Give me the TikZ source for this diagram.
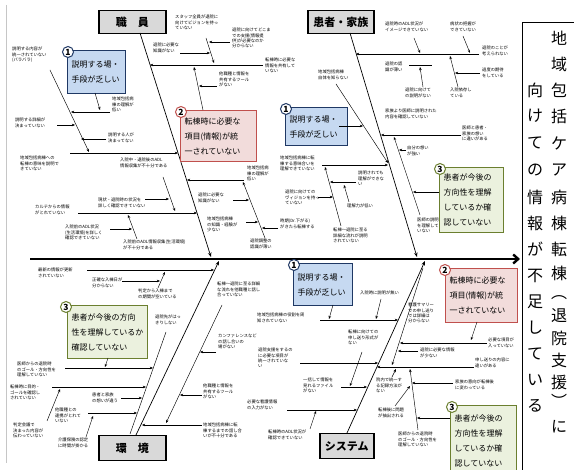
\documentclass[tikz,border=0pt]{standalone}
\usepackage{fontspec}
\setmainfont{Noto Sans CJK JP}
\usetikzlibrary{arrows.meta}
\definecolor{bfill}{HTML}{C6D9F1}
\definecolor{bdraw}{HTML}{1F3864}
\definecolor{rfill}{HTML}{F2DCDB}
\definecolor{rdraw}{HTML}{C0504D}
\definecolor{gfill}{HTML}{EBF1DE}
\definecolor{gdraw}{HTML}{6B7F2F}
\definecolor{catfill}{HTML}{D9D9D9}
\begin{document}
\begin{tikzpicture}[x=1pt,y=-1pt,
 t/.style={font=\fontsize{4.3}{5.3}\selectfont, align=left, inner sep=0pt, anchor=north west},
 ar/.style={-{Stealth[length=3.2pt,width=2.6pt]}, line width=0.45pt},
 pl/.style={line width=0.45pt},
 bone/.style={line width=0.7pt,-{Stealth[length=4.5pt,width=3.5pt]}},
 cat/.style={draw, line width=1.5pt, fill=catfill, anchor=north west, inner sep=0pt, font=\fontsize{11}{13}\selectfont\bfseries},
 cbox/.style={anchor=north west, inner xsep=4pt, inner ysep=0pt, line width=1.3pt, align=left, font=\fontsize{8}{15}\selectfont},
 b1/.style={cbox, draw=bdraw, fill=bfill},
 b2/.style={cbox, draw=rdraw, fill=rfill},
 b3/.style={cbox, draw=gdraw, fill=gfill},
 num/.style={circle, fill=white, line width=1pt, inner sep=0pt, minimum size=11pt, font=\fontsize{8.5}{9}\selectfont\bfseries},
 vt/.style={font=\fontsize{16}{16}\selectfont, inner sep=0pt}
]
\useasboundingbox (0,0) rectangle (574,470);
\fill[white] (0,0) rectangle (574,470);
% frame
\draw[gray!45, line width=0.6pt] (6,5) -- (6,463);
\draw[line width=0.8pt] (580,22) -- (522,22) -- (522,475);
% spine
\draw[line width=2.4pt, -{Straight Barb[length=5pt,width=9pt]}] (30,259) -- (520,259);
% category boxes
\node[cat, minimum width=67pt, minimum height=23pt] (staff) at (98,10) {職　員};
\node[cat, minimum width=66pt, minimum height=23pt] (patient) at (307,10) {患者・家族};
\node[cat, minimum width=67pt, minimum height=25pt] (env) at (98,435) {環　境};
\node[cat, minimum width=54pt, minimum height=25pt] (sys) at (319,433) {システム};
% main bones
\coordinate (b1a) at (140,33); \coordinate (b1b) at (211,257);
\coordinate (b2a) at (350,33); \coordinate (b2b) at (417,257);
\coordinate (b3a) at (136,435); \coordinate (b3b) at (219,261);
\coordinate (b4a) at (347,433); \coordinate (b4b) at (425,261);
\draw[bone] (b1a) -- (b1b);
\draw[bone] (b2a) -- (b2b);
\draw[bone] (b3a) -- (b3b);
\draw[bone] (b4a) -- (b4b);

% ---------- upper left (staff)
\node[b1, text width=50pt, minimum height=43pt] (c1) at (67,50) {説明する場・\\手段が乏しい};
\node[num, draw=bdraw] (n1) at (68,52) {1};
\node[t] (t1) at (12,47) {説明する内容が\\統一されていない\\(バラバラ)};
\node[t] (t2) at (15,118) {説明する詳細が\\決まっていない};
\node[t] (t3) at (112,97) {地域包括病\\棟の理解が\\低い};
\node[t] (t4) at (108,133) {説明する人が\\決まってない};
\node[t] (t5) at (20,156) {地域包括病棟への\\転棟の意味を説明で\\きていない};
\node[t] (t6) at (120,158) {入院中・退院後のADL\\情報収集が不十分である};
\node[t] (t7) at (98,198) {現状・退院時の状況を\\詳しく確認できていない};
\node[t] (t8) at (35,205) {カルテからの情報\\がとれていない};
\node[t] (t9) at (65,225) {入院前のADL状況\\(生活環境)を詳しく\\確認できていない};
\node[t] (t10) at (123,240) {入院前のADL情報収集(生活環境)\\が不十分である};
\draw[ar] (70,153) -- (178,153);
\draw[ar] (50,70) -- (89,152);
\draw[ar] (95,93) -- (100,110);
\draw[ar] (110,112) -- (71,112);
\draw[ar] (57,125) -- (75,125);
\draw[ar] (106,139) -- (81,139);
\draw[ar] (78,213) -- (197,213);
\draw[ar] (163,177) -- (175,211);
\draw[ar] (145,199) -- (169,199);
\draw[ar] (137,239) -- (128,215);
\draw[ar] (110,229) -- (132,229);

% ---------- upper middle
\node[t] (t11) at (175,15) {スタッフ全員が退院に\\向けてビジョンを持っ\\ていない};
\node[t] (t12) at (232,28) {退院に向けてどこま\\での支援(情報提\\供)が必要なのか\\分からない};
\node[t] (t13) at (153,43) {退院に必要な\\知識がない};
\node[t] (t14) at (265,58) {転棟時に必要な\\情報を共有して\\いない};
\node[t] (t15) at (219,72) {他職種と情報を\\共有するツール\\がない};
\node[b2, text width=68pt, minimum height=51pt] (c2) at (180,110) {転棟時に必要な\\項目(情報)が統\\一されていない};
\node[num, draw=rdraw] (n2) at (181,112) {2};
\node[t] (t16) at (247,166) {地域包括病\\棟の理解が\\低い};
\node[t] (t17) at (198,193) {退院に必要な\\知識がない};
\node[t] (t18) at (207,217) {地域包括病棟\\の知識・経験が\\少ない};
\node[t] (t19) at (250,239) {退院調整の\\認識が薄い};
\node[t] (t20) at (318,70) {地域包括病棟\\自体を知らない};
\node[b1, text width=54pt, minimum height=38pt] (c4) at (285,107) {説明する場・\\手段が乏しい};
\node[num, draw=bdraw] (n4) at (286,109) {1};
\node[t] (t21) at (280,156) {地域包括病棟に転\\棟する意味合いを\\理解できていない};
\node[t] (t22) at (358,171) {説明されても\\理解ができな\\い};
\node[t] (t23) at (285,190) {退院に向けての\\ヴィジョンを持っ\\ていない};
\node[t] (t24) at (347,204) {理解力が低い};
\node[t] (t25) at (280,219) {時期(Dr.下がる)\\がきたら転棟する};
\node[t] (t26) at (333,228) {転棟〜退院に至る\\詳細な流れが説明\\されていない};
\draw[ar] (263,65) -- (150,65);
\draw[ar] (206,38) -- (214,63);
\draw[ar] (180,53) -- (210,53);
\draw[ar] (230,42) -- (209,42);
\draw[ar] (203,110) -- (194,67);
\draw[ar] (217,86) -- (199,86);
\draw[ar] (244,180) -- (187,180);
\draw[ar] (265,238) -- (243,182);
\draw[ar] (233,200) -- (249,200);
\draw[ar] (246,222) -- (258,222);
\draw[ar] (278,228) -- (262,228);
\draw[ar] (336,84) -- (388,163);
\draw[ar] (339,126) -- (363,126);
\draw[ar] (322,165) -- (388,165);
\draw[ar] (341,226) -- (325,167);
\draw[ar] (356,182) -- (330,182);
\draw[ar] (318,197) -- (333,197);
\draw[ar] (349,202) -- (344,185);

% ---------- upper right
\node[t] (t27) at (385,22) {退院時のADL状況が\\イメージできていない};
\node[t] (t28) at (450,22) {病状の把握が\\できていない};
\node[t] (t29) at (482,46) {退院のことが\\考えられない};
\node[t] (t30) at (385,62) {退院の認\\識が薄い};
\node[t] (t31) at (482,68) {過度の期待\\をしている};
\node[t] (t32) at (405,88) {退院に向けて\\の説明がない};
\node[t] (t33) at (450,88) {入院依存し\\ている};
\node[t] (t34) at (385,109) {家族より医師に説明された\\内容を確認していない};
\node[t] (t35) at (462,126) {医師と患者・\\家族の想い\\に違いがある};
\node[t] (t36) at (407,146) {自分の想い\\が強い};
\node[b3, text width=56pt, minimum height=65pt] (c3) at (439,167) {患者が今後の\\方向性を理解\\しているか確\\認していない};
\node[num, draw=gdraw] (n3) at (440,169) {3};
\node[t] (t37) at (417,218) {医師の説明\\を理解して\\いない};
\draw[ar] (479,54) -- (356,54);
\draw[ar] (414,38) -- (420,53);
\draw[ar] (463,36) -- (470,53);
\draw[ar] (458,87) -- (450,56);
\draw[ar] (480,73) -- (455,73);
\draw[pl] (409,65) -- (432,65);
\draw[ar] (423,87) -- (420,67);
\draw[ar] (461,135) -- (381,135);
\draw[ar] (420,215) -- (394,137);
\draw[ar] (406,150) -- (399,150);
\draw[ar] (439,192) -- (413,192);

% ---------- lower left (environment)
\node[t] (t38) at (38,268) {最新の情報が更新\\されていない};
\node[t] (t39) at (92,278) {正確な入棟日が\\分からない};
\node[t] (t40) at (138,289) {判定から入棟まで\\の期間が空いている};
\node[b3, text width=72pt, minimum height=53pt] (c5) at (67,305) {患者が今後の方向\\性を理解しているか\\確認していない};
\node[num, draw=gdraw] (n5) at (66,307) {3};
\node[t] (t41) at (155,315) {退院先がはっ\\きりしない};
\node[t] (t42) at (217,282) {転棟〜退院に至る詳細\\な流れを他職種と話し\\合っていない};
\node[t] (t43) at (218,334) {カンファレンスなど\\の話し合いの\\場がない};
\node[t] (t44) at (17,362) {医師からの退院時\\のゴール・方向性を\\理解していない};
\node[t] (t45) at (10,385) {転棟時に目的・\\ゴールを確認し\\されていない};
\node[t] (t46) at (92,393) {患者と家族\\の想いが違う};
\node[t] (t47) at (55,408) {他職種との\\連携がとれて\\いない};
\node[t] (t48) at (13,423) {判定会議で\\決まった内容が\\伝わっていない};
\node[t] (t49) at (58,438) {介護保険の認定\\に時間が掛かる};
\node[t] (t50) at (203,384) {他職種と情報を\\共有するツール\\がない};
\node[t] (t51) at (203,423) {地域包括病棟に転\\棟するまでの話し合\\いが不十分である};
\draw[ar] (87,270) -- (214,270);
\draw[ar] (158,288) -- (165,272);
\draw[ar] (122,281) -- (160,281);
\draw[pl] (166,332) -- (130,434);
\draw[ar] (108,358) -- (105,367);
\draw[ar] (65,368) -- (153,368);
\draw[ar] (52,387) -- (146,387);
\draw[ar] (47,421) -- (60,389);
\draw[ar] (121,398) -- (142,398);
\draw[ar] (88,413) -- (137,413);
\draw[ar] (86,437) -- (93,416);
\draw[ar] (222,305) -- (166,423);
\draw[ar] (216,352) -- (200,352);
\draw[ar] (202,395) -- (180,395);
\draw[ar] (202,425) -- (142,425);

% ---------- lower middle (system)
\node[b1, text width=51pt, minimum height=42pt] (c6) at (293,263) {説明する場・\\手段が乏しい};
\node[num, draw=bdraw] (n6) at (294,265) {1};
\node[t] (t52) at (360,291) {入院時に説明が無い};
\node[t] (t53) at (257,313) {地域包括病棟の役割を周\\知されていない};
\node[t] (t54) at (348,330) {転棟に向けての\\申し送り形式が\\ない};
\node[t] (t55) at (258,348) {退院支援をするの\\に必要な項目が\\統一されていな\\い};
\node[t] (t56) at (303,378) {一括して情報を\\見れるファイル\\がない};
\node[t] (t57) at (247,400) {必要な看護情報\\の入力がない};
\node[t] (t58) at (268,430) {転棟時のADL状況が\\確認できていない};
\draw[ar] (381,299) -- (376,319);
\draw[ar] (320,320) -- (398,320);
\draw[ar] (333,305) -- (329,319);
\draw[ar] (300,363) -- (378,363);
\draw[ar] (341,387) -- (367,387);
\draw[ar] (362,352) -- (350,386);
\draw[ar] (287,410) -- (357,410);
\draw[ar] (310,429) -- (316,411);

% ---------- lower right
\node[b2, text width=64pt, minimum height=54pt] (c7) at (445,268) {転棟時に必要な\\項目(情報)が統\\一されていない};
\node[num, draw=rdraw] (n7) at (445,270) {2};
\node[t] (t59) at (408,303) {看護サマリー\\での申し送り\\では詳細は\\分からない};
\node[t] (t60) at (488,338) {必要な項目が\\入っていない};
\node[t] (t61) at (420,348) {退院に必要な情報\\が少ない};
\node[t] (t62) at (475,358) {申し送りの内容に\\違いがある};
\node[t] (t63) at (376,378) {院内で統一す\\る記録方法が\\ない};
\node[t] (t64) at (455,380) {家族の意向が転棟後\\に変わっている};
\node[t] (t65) at (378,408) {転棟後に問題\\が抽出される};
\node[t] (t66) at (398,432) {医師からの退院時\\のゴール・方向性を\\理解していない};
\node[b3, text width=58pt, minimum height=70pt] (c8) at (450,405) {患者が今後の\\方向性を理解\\しているか確\\認していない};
\node[num, draw=gdraw] (n8) at (452,407) {3};
\draw[ar] (423,268) -- (392,365);
\draw[ar] (487,343) -- (400,343);
\draw[ar] (477,322) -- (471,340);
\draw[ar] (418,351) -- (398,351);
\draw[ar] (474,367) -- (377,367);
\draw[ar] (392,377) -- (396,369);
\draw[ar] (418,430) -- (410,369);
\draw[ar] (453,383) -- (412,383);
\draw[ar] (450,418) -- (417,418);
\draw[ar] (395,406) -- (410,386);

% ---------- vertical title
\foreach \c/\yy [count=\i] in {地/38,域/64,包/90,括/116,ケ/143,ア/170,病/197,棟/223,転/249,棟/273,︵/298,退/316,院/338,支/360,援/382,︶/401,に/427}
  \node[vt] (vr\i) at (559,\yy) {\c};
\foreach \c/\yy [count=\i] in {向/90,け/116,て/143,の/170,情/197,報/223,が/249,不/276,足/302,し/328,て/354,い/380,る/406}
  \node[vt] (vl\i) at (535,\yy) {\c};
\end{tikzpicture}
\end{document}
